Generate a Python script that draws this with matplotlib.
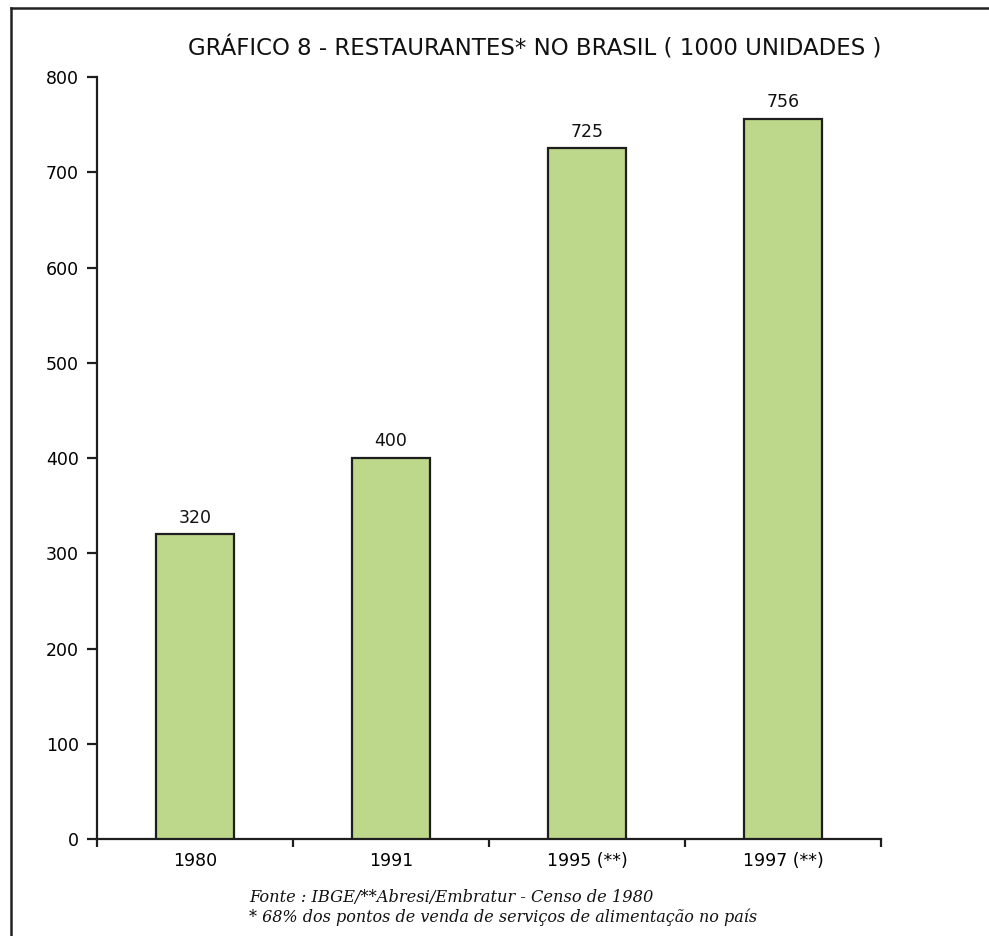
import numpy as np
import matplotlib.pyplot as plt
from matplotlib.lines import Line2D

# Restaurantes no Brasil, em milhares de unidades
anos = ['1980', '1991', '1995 (**)', '1997 (**)']
restaurantes = [320, 400, 725, 756]
y_ticks = [0, 100, 200, 300, 400, 500, 600, 700, 800]

titulo = 'GRÁFICO 8 - RESTAURANTES* NO BRASIL ( 1000 UNIDADES )'
fonte = 'Fonte : IBGE/**Abresi/Embratur - Censo de 1980'
nota = '* 68% dos pontos de venda de serviços de alimentação no país'

plt.rcParams['font.family'] = ['DejaVu Sans']
serif = ['DejaVu Serif']

fig = plt.figure(figsize=(9.89, 9.36), dpi=100)
ax = fig.add_axes([0.0981, 0.1036, 0.7927, 0.8141])

x = np.arange(len(anos))
ax.bar(x, restaurantes, width=0.4, color='#bdd78b',
       edgecolor='#1e1e1e', linewidth=1.6, zorder=3)

for xi, v in zip(x, restaurantes):
    ax.text(xi, v + 8, str(v), ha='center', va='bottom', fontsize=12.5, color='#111111')

ax.set_xlim(-0.5, len(anos) - 0.5)
ax.set_ylim(0, 800)
ax.set_yticks(y_ticks)

# major ticks on category boundaries, labels centred on the bars
ax.set_xticks(np.arange(-0.5, len(anos), 1.0))
ax.set_xticklabels([])
ax.set_xticks(x, minor=True)
ax.set_xticklabels(anos, minor=True)
ax.tick_params(axis='x', which='minor', length=0, pad=9, labelsize=12.5)
ax.tick_params(axis='x', which='major', length=6, width=1.6, color='#1e1e1e')
ax.tick_params(axis='y', length=7, width=1.6, color='#1e1e1e', pad=6, labelsize=12.5)

for s in ['top', 'right']:
    ax.spines[s].set_visible(False)
for s in ['left', 'bottom']:
    ax.spines[s].set_linewidth(1.6)
    ax.spines[s].set_color('#1e1e1e')

fig.text(0.541, 0.948, titulo, ha='center', va='center', fontsize=16.5, color='#111111')

fig.text(0.252, 0.041, fonte, ha='left', va='center', fontsize=11.7,
         family=serif, style='italic', color='#111111')
fig.text(0.252, 0.020, nota, ha='left', va='center', fontsize=11.5,
         family=serif, style='italic', color='#111111')

# border around the chart (left and top edges)
fx0, fy0 = 11 / 989, 1 - 8 / 936
fig.add_artist(Line2D([fx0, fx0], [0, fy0], transform=fig.transFigure,
                      color='#222222', linewidth=1.8))
fig.add_artist(Line2D([fx0, 1], [fy0, fy0], transform=fig.transFigure,
                      color='#222222', linewidth=1.8))

fig.savefig('out.png', dpi=100)
